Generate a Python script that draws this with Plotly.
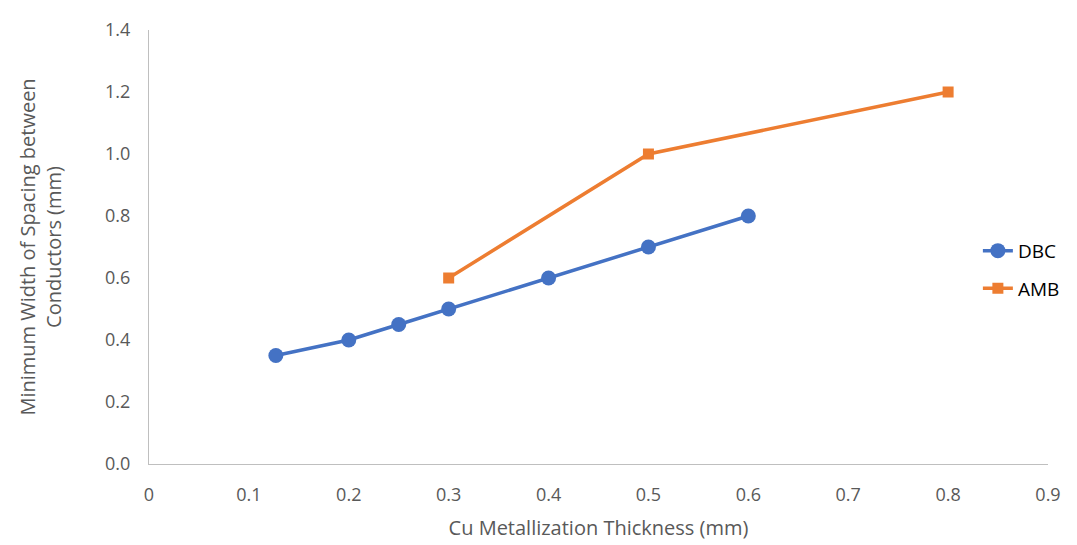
import plotly.graph_objects as go

dbc_x = [0.127, 0.2, 0.25, 0.3, 0.4, 0.5, 0.6]
dbc_y = [0.35, 0.4, 0.45, 0.5, 0.6, 0.7, 0.8]
amb_x = [0.3, 0.5, 0.8]
amb_y = [0.6, 1.0, 1.2]
x_ticks = [0, 0.1, 0.2, 0.3, 0.4, 0.5, 0.6, 0.7, 0.8, 0.9]
x_labels = ["0", "0.1", "0.2", "0.3", "0.4", "0.5", "0.6", "0.7", "0.8", "0.9"]
y_ticks = [0, 0.2, 0.4, 0.6, 0.8, 1.0, 1.2, 1.4]
y_labels = ["0.0", "0.2", "0.4", "0.6", "0.8", "1.0", "1.2", "1.4"]

fig = go.Figure()
fig.add_trace(go.Scatter(x=dbc_x, y=dbc_y, name="DBC", mode="lines+markers",
                         legendgroup="dbc",
                         line=dict(color="#4472C4", width=3.5),
                         marker=dict(symbol="circle", size=15, color="#4472C4")))
fig.add_trace(go.Scatter(x=amb_x, y=amb_y, name="AMB", mode="lines+markers",
                         legendgroup="amb",
                         line=dict(color="#ED7D31", width=3.5),
                         marker=dict(symbol="square", size=11, color="#ED7D31")))

font_fam = "Open Sans, Liberation Sans, sans-serif"
fig.update_layout(
    width=1069, height=537,
    margin=dict(l=141, r=27, t=22, b=81),
    plot_bgcolor="white", paper_bgcolor="white",
    font=dict(family=font_fam, color="#595959", size=18),
    showlegend=True,
    legend=dict(x=0.922, y=0.535, xanchor="left", yanchor="top",
                font=dict(size=19, color="#000000"), tracegroupgap=10,
                itemwidth=30, bgcolor="rgba(0,0,0,0)"),
    xaxis=dict(range=[0, 0.9], tickvals=x_ticks, ticktext=x_labels, automargin=False,
               showgrid=False, zeroline=False, showline=True, linecolor="#BFBFBF",
               linewidth=1, ticks="", ticklen=0, ticklabelstandoff=14,
               title=dict(text="Cu Metallization Thickness (mm)", font=dict(size=20, color="#595959"),
                          standoff=16)),
    yaxis=dict(range=[0, 1.4], tickvals=y_ticks, ticktext=y_labels, automargin=False,
               showgrid=False, zeroline=False, showline=True, linecolor="#BFBFBF",
               linewidth=1, ticks="", ticklen=0, ticklabelstandoff=14,
               title=dict(text="Minimum Width of Spacing between<br>Conductors (mm)",
                          font=dict(size=20, color="#595959"), standoff=38)),
)

fig.write_html("out.html")
